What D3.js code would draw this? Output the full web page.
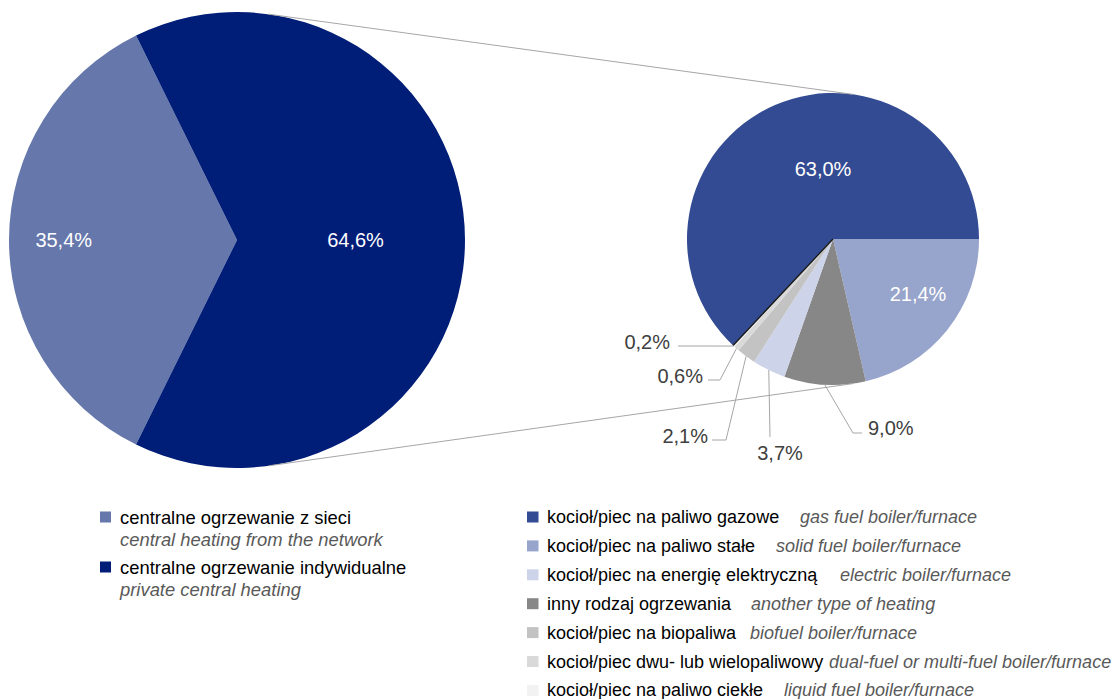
<!DOCTYPE html>
<html>
<head>
<meta charset="utf-8">
<script src="https://cdn.jsdelivr.net/npm/d3@7"></script>
<style>
  html, body { margin: 0; padding: 0; background: #ffffff; }
  svg { display: block; font-family: "Liberation Sans", Arial, sans-serif; }
</style>
</head>
<body>
<svg id="chart" width="1114" height="699"></svg>
<script>
// ---------- data ----------
const leftCategories = ["centralne ogrzewanie z sieci", "centralne ogrzewanie indywidualne"];
const leftCategoriesEn = ["central heating from the network", "private central heating"];
const leftValues = [35.4, 64.6];

const rightCategories = [
  "kocioł/piec na paliwo gazowe",
  "kocioł/piec na paliwo stałe",
  "kocioł/piec na energię elektryczną",
  "inny rodzaj ogrzewania",
  "kocioł/piec na biopaliwa",
  "kocioł/piec dwu- lub wielopaliwowy",
  "kocioł/piec na paliwo ciekłe"
];
const rightCategoriesEn = [
  "gas fuel boiler/furnace",
  "solid fuel boiler/furnace",
  "electric boiler/furnace",
  "another type of heating",
  "biofuel boiler/furnace",
  "dual-fuel or multi-fuel boiler/furnace",
  "liquid fuel boiler/furnace"
];
const rightValues = [63.0, 21.4, 3.7, 9.0, 2.1, 0.6, 0.2];
// clockwise drawing order of the secondary pie, starting at 3 o'clock
const rightPieOrder = [1, 3, 2, 4, 5, 6, 0];

// ---------- styles / layout ----------
const leftColors = ["#6577ab", "#001d77"];
const rightColors = ["#334b92", "#97a4cb", "#cdd3e8", "#878787", "#c3c3c3", "#d9d9d9", "#f2f2f2"];
// x where the English (italic) part of each right legend entry starts
const legendEnX = [800, 776, 840, 751, 750, 829, 784];

const L = { cx: 237, cy: 240, r: 228 };
const R = { cx: 833, cy: 239, r: 146 };

// label layout for the left pie: radial factor along slice mid-angle
const leftLabelFactor = [0.76, 0.52];
// label layout for the right pie (legend order), offsets relative to pie centre
const rightLabelLayout = [
  { type: "in", x: -10, y: -70 },
  { type: "in", x: 85, y: 55 },
  { type: "out", pts: [[-63, 198]], tx: -53, ty: 214, anchor: "middle" },
  { type: "out", pts: [[20, 194], [29, 194]], tx: 35, ty: 189, anchor: "start" },
  { type: "out", pts: [[-107, 201], [-121, 201]], tx: -125, ty: 197, anchor: "end" },
  { type: "out", pts: [[-113, 141], [-125, 141]], tx: -130, ty: 137, anchor: "end" },
  { type: "out", pts: [[-155, 107]], tx: -163, ty: 103, anchor: "end" }
];

const fmt = v => d3.format(".1f")(v).replace(".", ",") + "%";
const svg = d3.select("#chart");

// ---------- left (primary) pie ----------
const leftSum = d3.sum(leftValues);
const leftStart = 1.5 * Math.PI - Math.PI * leftValues[0] / leftSum;
const leftPie = d3.pie().sort(null).startAngle(leftStart).endAngle(leftStart + 2 * Math.PI);
const leftArcs = leftPie(leftValues);
const leftArc = d3.arc().innerRadius(0).outerRadius(L.r);
const gL = svg.append("g").attr("transform", `translate(${L.cx},${L.cy})`);
gL.selectAll("path").data(leftArcs).join("path")
  .attr("d", leftArc).attr("fill", (d, i) => leftColors[i]);
gL.selectAll("text").data(leftArcs).join("text")
  .attr("x", (d, i) => Math.sin((d.startAngle + d.endAngle) / 2) * L.r * leftLabelFactor[i])
  .attr("y", (d, i) => -Math.cos((d.startAngle + d.endAngle) / 2) * L.r * leftLabelFactor[i])
  .attr("text-anchor", "middle").attr("dominant-baseline", "central")
  .attr("font-size", 20).attr("fill", "#ffffff")
  .text(d => fmt(d.data));

// ---------- right (secondary) pie ----------
const orderedValues = rightPieOrder.map(i => ({ idx: i, v: rightValues[i] }));
const rightPie = d3.pie().sort(null).value(d => d.v)
  .startAngle(Math.PI / 2).endAngle(Math.PI / 2 + 2 * Math.PI);
const rightArcs = rightPie(orderedValues);
const rightArc = d3.arc().innerRadius(0).outerRadius(R.r);
const gR = svg.append("g").attr("transform", `translate(${R.cx},${R.cy})`);
gR.selectAll("path").data(rightArcs).join("path")
  .attr("d", rightArc).attr("fill", d => rightColors[d.data.idx]);

// thin dark edge at the start of the gas slice
const gasArc = rightArcs.find(d => d.data.idx === 0);
gR.append("line")
  .attr("x1", 0).attr("y1", 0)
  .attr("x2", Math.sin(gasArc.startAngle) * R.r)
  .attr("y2", -Math.cos(gasArc.startAngle) * R.r)
  .attr("stroke", "#1a1a1a").attr("stroke-width", 1.4);

// ---------- connector lines (external tangents of both pies) ----------
(function () {
  const dx = R.cx - L.cx, dy = R.cy - L.cy, d = Math.hypot(dx, dy);
  const ux = dx / d, uy = dy / d;
  const c = (L.r - R.r) / d, s = Math.sqrt(1 - c * c);
  [-1, 1].forEach(sign => {
    const nx = c * ux - sign * s * uy;
    const ny = c * uy + sign * s * ux;
    svg.append("line")
      .attr("x1", L.cx + L.r * nx).attr("y1", L.cy + L.r * ny)
      .attr("x2", R.cx + R.r * nx).attr("y2", R.cy + R.r * ny)
      .attr("stroke", "#a6a6a6").attr("stroke-width", 1);
  });
})();

// ---------- right pie labels ----------
rightArcs.forEach(a => {
  const i = a.data.idx;
  const lay = rightLabelLayout[i];
  if (lay.type === "in") {
    gR.append("text")
      .attr("x", lay.x).attr("y", lay.y)
      .attr("text-anchor", "middle").attr("dominant-baseline", "central")
      .attr("font-size", 20).attr("fill", "#ffffff")
      .text(fmt(rightValues[i]));
  } else {
    const mid = (a.startAngle + a.endAngle) / 2;
    const p0 = [Math.sin(mid) * R.r, -Math.cos(mid) * R.r];
    gR.append("path")
      .attr("d", d3.line()([p0, ...lay.pts]))
      .attr("fill", "none").attr("stroke", "#a6a6a6").attr("stroke-width", 1);
    gR.append("text")
      .attr("x", lay.tx).attr("y", lay.ty)
      .attr("text-anchor", lay.anchor).attr("dominant-baseline", "central")
      .attr("font-size", 20).attr("fill", "#404040")
      .text(fmt(rightValues[i]));
  }
});

// ---------- legends ----------
const legL = svg.append("g");
leftCategories.forEach((name, i) => {
  const y = 517 + i * 50;
  legL.append("rect").attr("x", 100).attr("y", y - 5.5).attr("width", 11).attr("height", 11)
    .attr("fill", leftColors[i]);
  legL.append("text").attr("x", 120).attr("y", y).attr("dominant-baseline", "central")
    .attr("font-size", 18.4).attr("fill", "#000000").text(name);
  legL.append("text").attr("x", 120).attr("y", y + 22).attr("dominant-baseline", "central")
    .attr("font-size", 18.4).attr("font-style", "italic").attr("fill", "#595959")
    .text(leftCategoriesEn[i]);
});

const legR = svg.append("g");
rightCategories.forEach((name, i) => {
  const y = 517 + i * 28.9;
  legR.append("rect").attr("x", 527).attr("y", y - 5.5).attr("width", 11.5).attr("height", 11)
    .attr("fill", rightColors[i]);
  legR.append("text").attr("x", 547).attr("y", y).attr("dominant-baseline", "central")
    .attr("font-size", 18).attr("fill", "#000000").text(name);
  legR.append("text").attr("x", legendEnX[i]).attr("y", y)
    .attr("dominant-baseline", "central")
    .attr("font-size", 18).attr("font-style", "italic").attr("fill", "#595959")
    .text(rightCategoriesEn[i]);
});
</script>
</body>
</html>
